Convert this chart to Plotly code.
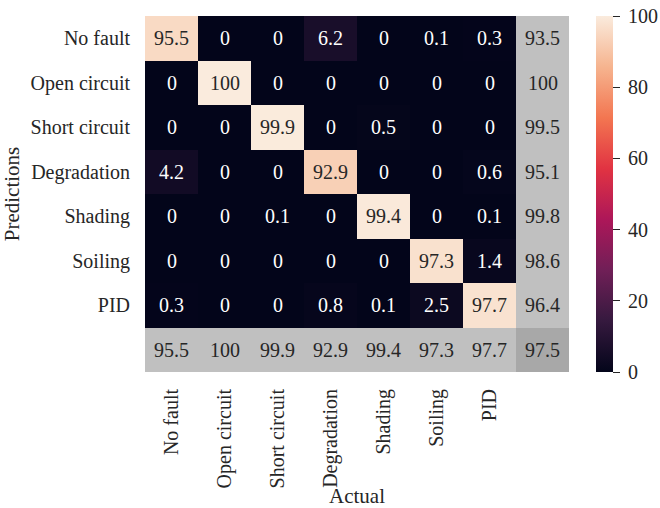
import plotly.graph_objects as go

# Fault classes (predicted rows / actual columns)
classes = ["No fault", "Open circuit", "Short circuit", "Degradation",
           "Shading", "Soiling", "PID"]

# Confusion matrix in percent: rows = predictions, columns = actual
confusion = [
    [95.5, 0, 0, 6.2, 0, 0.1, 0.3],
    [0, 100, 0, 0, 0, 0, 0],
    [0, 0, 99.9, 0, 0.5, 0, 0],
    [4.2, 0, 0, 92.9, 0, 0, 0.6],
    [0, 0, 0.1, 0, 99.4, 0, 0.1],
    [0, 0, 0, 0, 0, 97.3, 1.4],
    [0.3, 0, 0, 0.8, 0.1, 2.5, 97.7],
]
# Per-row precision, per-column recall and overall accuracy
precision = [93.5, 100, 99.5, 95.1, 99.8, 98.6, 96.4]
recall = [95.5, 100, 99.9, 92.9, 99.4, 97.3, 97.7]
overall = 97.5

colorbar_ticks = [0, 20, 40, 60, 80, 100]

FONT = "'Liberation Serif', 'Times New Roman', Times, 'DejaVu Serif', serif"
TEXT_DARK = "#262626"

# seaborn "rocket" colormap
rocket = [
    [0.0, "#03051a"],
    [1 / 7, "#35193e"],
    [2 / 7, "#701f57"],
    [3 / 7, "#ad1759"],
    [4 / 7, "#e13342"],
    [5 / 7, "#f37651"],
    [6 / 7, "#f6b48f"],
    [1.0, "#faebdd"],
]

n = len(classes)
idx = list(range(n))

# Figure geometry (pixels)
W, H = 660, 508
ML, MT, MB = 145, 16, 136
HEAT_W = 424            # width of the heatmap block
CB_LEFT = 596           # left edge of the colour bar
CB_LABEL_AXIS = 627     # axis carrying the colour-bar labels
area_w = W - ML

fig = go.Figure()

# Main confusion matrix
fig.add_trace(go.Heatmap(
    z=confusion, x=idx, y=idx,
    colorscale=rocket, zmin=0, zmax=100,
    hoverinfo="skip",
    colorbar=dict(
        tickvals=colorbar_ticks,
        ticks="outside", ticklen=7, tickwidth=1, tickcolor=TEXT_DARK,
        showticklabels=False,
        outlinewidth=0, thickness=17,
        x=(CB_LEFT - ML) / area_w, xanchor="left", xref="paper", xpad=0, ypad=0,
        y=0.5, yanchor="middle", len=1.0, lenmode="fraction",
    ),
))

# Summary row / column in gray (corner darker)
summary_z = [[None] * (n + 1) for _ in range(n + 1)]
for i in range(n):
    summary_z[i][n] = 0
    summary_z[n][i] = 0
summary_z[n][n] = 1
fig.add_trace(go.Heatmap(
    z=summary_z, x=list(range(n + 1)), y=list(range(n + 1)),
    colorscale=[[0, "#c0c0c0"], [1, "#a8a8a8"]], zmin=0, zmax=1,
    showscale=False, hoverinfo="skip",
))

# Empty trace that attaches the colour-bar value axis (y2) so it gets drawn
fig.add_trace(go.Scatter(
    x=[None], y=[None], xaxis="x", yaxis="y2",
    mode="markers", showlegend=False, hoverinfo="skip",
))

def fmt(v):
    return f"{v:g}"

annotations = []
for i in range(n):
    for j in range(n):
        v = confusion[i][j]
        annotations.append(dict(
            x=j, y=i, text=fmt(v), showarrow=False,
            font=dict(family=FONT, size=20,
                      color=TEXT_DARK if v > 50 else "white"),
        ))
    annotations.append(dict(
        x=n, y=i, text=fmt(precision[i]), showarrow=False,
        font=dict(family=FONT, size=20, color=TEXT_DARK),
    ))
for j in range(n):
    annotations.append(dict(
        x=j, y=n, text=fmt(recall[j]), showarrow=False,
        font=dict(family=FONT, size=20, color=TEXT_DARK),
    ))
annotations.append(dict(
    x=n, y=n, text=fmt(overall), showarrow=False,
    font=dict(family=FONT, size=20, color=TEXT_DARK),
))

fig.update_layout(
    width=W, height=H,
    margin=dict(l=ML, r=0, t=MT, b=MB, autoexpand=False),
    paper_bgcolor="white", plot_bgcolor="white",
    font=dict(family=FONT, size=20, color=TEXT_DARK),
    annotations=annotations,
    showlegend=False,
    xaxis=dict(
        domain=[0, HEAT_W / area_w],
        tickmode="array", tickvals=idx, ticktext=classes,
        range=[-0.5, n + 0.5], tickangle=-90,
        showgrid=False, zeroline=False, showline=False, ticks="",
        ticklabelstandoff=12, automargin=False,
        title=dict(text="Actual", font=dict(family=FONT, size=21, color=TEXT_DARK),
                   standoff=2),
    ),
    yaxis=dict(
        tickmode="array", tickvals=idx, ticktext=classes,
        range=[n + 0.5, -0.5],
        showgrid=False, zeroline=False, showline=False, ticks="",
        ticklabelstandoff=14, automargin=False,
        title=dict(text="Predictions", font=dict(family=FONT, size=21, color=TEXT_DARK),
                   standoff=6),
    ),
    # value scale printed beside the colour bar
    yaxis2=dict(
        overlaying="y", anchor="free", side="right",
        position=(CB_LABEL_AXIS - ML) / area_w,
        range=[0, 100], tickmode="array", tickvals=colorbar_ticks,
        showgrid=False, zeroline=False, showline=False, ticks="",
        automargin=False, fixedrange=True,
        tickfont=dict(family=FONT, size=20, color=TEXT_DARK),
    ),
)

fig.write_html("out.html")
